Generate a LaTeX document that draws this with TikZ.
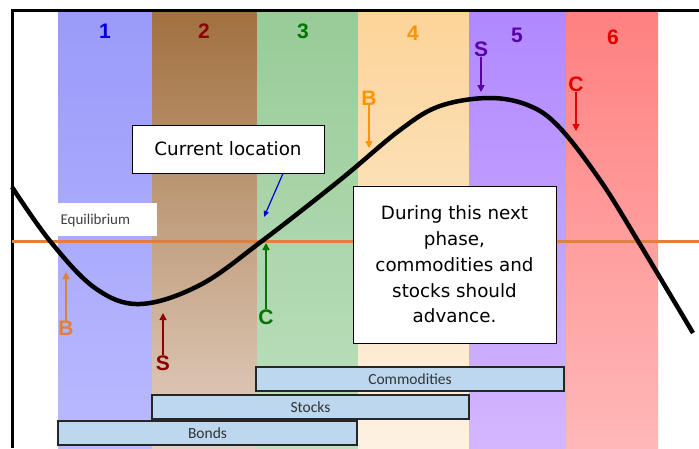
\documentclass[tikz,border=0pt]{standalone}
\usepackage{fontspec}
\usepackage{xcolor}
\usepackage{tikz}
\usetikzlibrary{arrows.meta}

\newfontfamily\labelfont{Carlito}
\newfontfamily\boxfont{DejaVu Sans}
\newfontfamily\markfont{Liberation Sans}

\definecolor{eqline}{HTML}{E0803E}
\definecolor{barblue}{HTML}{BDD7EE}
\definecolor{bandA}{HTML}{9A9AFA}
\definecolor{bandAlo}{HTML}{BABAFF}
\definecolor{bandB}{HTML}{A2703F}
\definecolor{bandBlo}{HTML}{E2D0C2}
\definecolor{bandC}{HTML}{98CB98}
\definecolor{bandClo}{HTML}{BEE0BE}
\definecolor{bandD}{HTML}{FCD498}
\definecolor{bandDlo}{HTML}{FDF1E2}
\definecolor{bandE}{HTML}{B088FF}
\definecolor{bandElo}{HTML}{D4B6FF}
\definecolor{bandF}{HTML}{FF8080}
\definecolor{bandFlo}{HTML}{FFB8B8}

\begin{document}
\begin{tikzpicture}[x=1pt,y=-1pt,
  phase/.style={font=\markfont\bfseries\fontsize{21}{21}\selectfont,inner sep=0pt},
  signal/.style={font=\markfont\bfseries\fontsize{21}{21}\selectfont,inner sep=0pt},
  sigarrow/.style={line width=1.6pt,-{Triangle[length=7pt,width=7pt]}},
  asset/.style={draw=black!85,line width=1.8pt,fill=barblue,inner sep=0pt,
    minimum height=24pt,text=black!80,font=\labelfont\fontsize{15.5}{16}\selectfont},
  callout/.style={draw,fill=white,line width=0.8pt,inner sep=0pt,align=center,
    font=\boxfont\fontsize{18.3}{25.7}\selectfont}]
  \useasboundingbox (0,0) rectangle (699,448);
  \fill[white] (0,0) rectangle (699,448);

  % phase bands
  \shade[top color=bandA,bottom color=bandAlo] (58,10) rectangle (152,448);
  \shade[top color=bandB,bottom color=bandBlo] (152,10) rectangle (257,448);
  \shade[top color=bandC,bottom color=bandClo] (257,10) rectangle (358,448);
  \shade[top color=bandD,bottom color=bandDlo] (358,10) rectangle (469,448);
  \shade[top color=bandE,bottom color=bandElo] (469,10) rectangle (566,448);
  \shade[top color=bandF,bottom color=bandFlo] (566,10) rectangle (658,448);

  % frame
  \draw[line width=3pt] (699,10) -- (12,10) -- (12,448);

  \node[phase,text=blue!85!black] (p1) at (105,31) {1};
  \node[phase,text=red!55!black] (p2) at (204,31) {2};
  \node[phase,text=green!45!black] (p3) at (303,31) {3};
  \node[phase,text=orange!85!yellow] (p4) at (413,33) {4};
  \node[phase,text=violet!70!blue] (p5) at (517,35) {5};
  \node[phase,text=red!90!black] (p6) at (613,37) {6};

  % equilibrium
  \node[fill=white,minimum width=100pt,minimum height=33pt,inner sep=0pt] (eqbox) at (107,219.5) {};
  \node[anchor=west,text=black!75,font=\labelfont\fontsize{15}{15}\selectfont] (eqlab) at (57,220) {Equilibrium};
  \draw[eqline,line width=3pt] (12,241) -- (699,241);

  % cycle curve
  \draw[line width=4.5pt] plot[smooth,tension=0.6] coordinates {
    (12,187) (50,241) (95,288) (140,304) (200,285) (262,241) (340,180)
    (400,130) (440,106) (490,98) (530,106) (560,128) (600,180) (638,241) (693,333)};

  % buy signals
  \node[signal,text=eqline] (bonds1) at (66,328) {B};
  \coordinate (bonds1tip) at (66,272);
  \draw[sigarrow,eqline] (bonds1) -- (bonds1tip);
  \node[signal,text=red!55!black] (stock2) at (163,363) {S};
  \coordinate (stock2tip) at (163,313);
  \draw[sigarrow,red!55!black] (stock2) -- (stock2tip);
  \node[signal,text=green!45!black] (comm3) at (266,317) {C};
  \coordinate (comm3tip) at (266,243);
  \draw[sigarrow,green!45!black] (comm3) -- (comm3tip);
  \node[signal,text=orange!85!yellow] (bonds4) at (369,98) {B};
  \coordinate (bonds4tip) at (369,148);
  \draw[sigarrow,orange!85!yellow] (bonds4) -- (bonds4tip);
  \node[signal,text=violet!70!blue] (stock5) at (481,49) {S};
  \coordinate (stock5tip) at (481,92);
  \draw[sigarrow,violet!70!blue] (stock5) -- (stock5tip);
  \node[signal,text=red!90!black] (comm6) at (576,84) {C};
  \coordinate (comm6tip) at (576,131);
  \draw[sigarrow,red!90!black] (comm6) -- (comm6tip);

  % call-outs
  \node[callout,minimum width=192pt,minimum height=48pt] (current) at (228,149) {Current location};
  \coordinate (currenttip) at (264,217);
  \draw[blue!85!black,line width=1.2pt,-{Triangle[length=6pt,width=5pt]}] (current.south -| 283,0) -- (currenttip);
  \node[callout,minimum width=203pt,minimum height=157pt] (nextphase) at (454.5,264.5)
    {During this next\\phase,\\commodities and\\stocks should\\advance.};

  % asset classes
  \node[asset,minimum width=308pt] (commodities) at (410,379) {Commodities};
  \node[asset,minimum width=317pt] (stocks) at (310.5,407) {Stocks};
  \node[asset,minimum width=299pt] (bonds) at (207.5,433) {Bonds};
\end{tikzpicture}
\end{document}
